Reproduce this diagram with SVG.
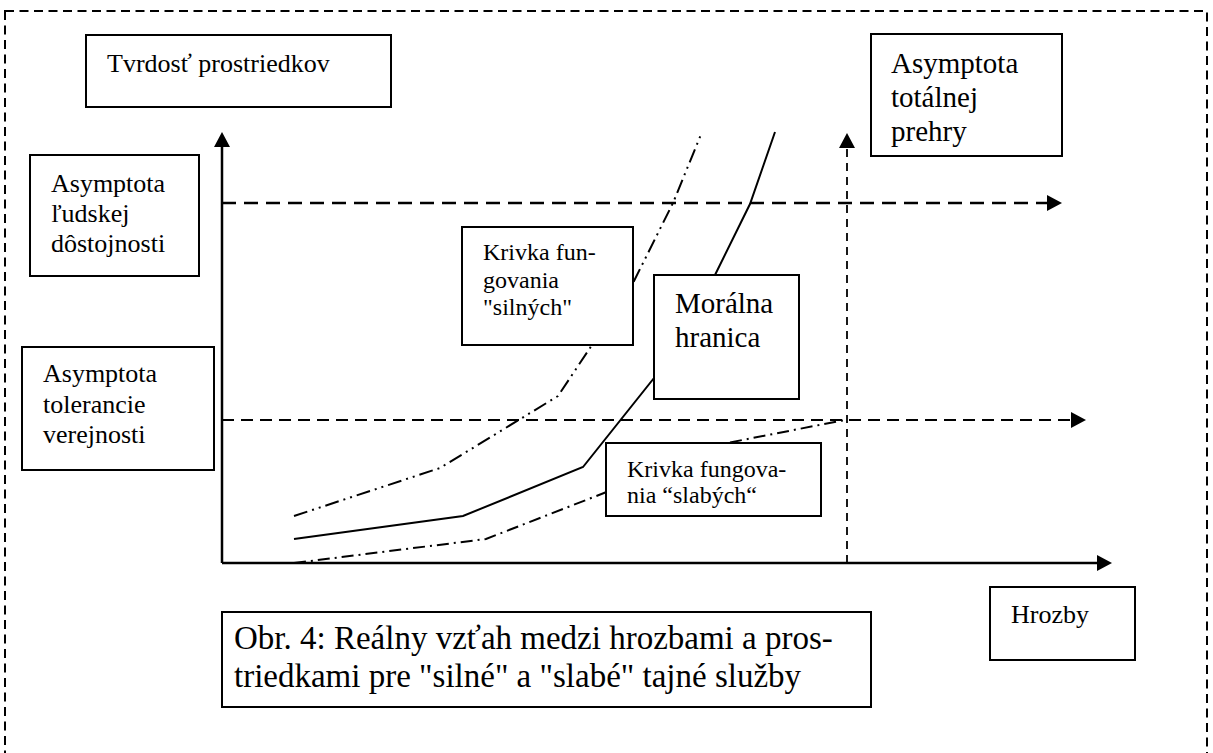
<svg xmlns="http://www.w3.org/2000/svg" width="1213" height="753" viewBox="0 0 1213 753">
<style>
.box{fill:#fff;stroke:#000;stroke-width:2}
.t{font-family:"Liberation Serif","Times New Roman",serif;fill:#000}
.ax{stroke:#000;stroke-width:2.5;fill:none}
.dl{stroke:#000;fill:none}
</style>
<defs>
<marker id="ah" viewBox="0 0 15 16" refX="0" refY="8" markerWidth="15" markerHeight="16" markerUnits="userSpaceOnUse" orient="auto">
<path d="M0,0 L15,8 L0,16 z" fill="#000"/>
</marker>
</defs>
<rect x="5" y="11" width="1202" height="760" fill="none" stroke="#000" stroke-width="2" stroke-dasharray="9 5.5"/>
<g id="connectors">
<line class="ax" x1="222" y1="563" x2="222" y2="147" marker-end="url(#ah)"/>
<line class="ax" x1="222" y1="563" x2="1097" y2="563" marker-end="url(#ah)"/>
<line class="dl" stroke-width="2.5" stroke-dasharray="14 8" x1="222" y1="203" x2="1047" y2="203" marker-end="url(#ah)"/>
<line class="dl" stroke-width="1.8" stroke-dasharray="12 7" x1="222" y1="420" x2="1071" y2="420" marker-end="url(#ah)"/>
<line class="dl" stroke-width="1.8" stroke-dasharray="8 6" x1="847" y1="563" x2="847" y2="148" marker-end="url(#ah)"/>
<polyline class="dl" stroke-width="2" points="294,539 463,516 583,467 654,378 715,275 750,204 775,132"/>
<polyline class="dl" stroke-width="2" stroke-dasharray="14 5 2 5 2 5" points="294,516 440,468 558,396 592,345 633,283 673,203 702,132"/>
<polyline class="dl" stroke-width="2" stroke-dasharray="12 5 2 5" points="294,563 486,539 604,493 727,443 845,420"/>
</g>
<g id="n-tvrdost">
<rect class="box" x="86" y="35" width="305" height="72"/>
<text class="t" x="107" y="72" font-size="26">Tvrdosť prostriedkov</text>
</g>
<g id="n-totalnej">
<rect class="box" x="871" y="34" width="191" height="122"/>
<text class="t" x="891" y="73" font-size="29">Asymptota</text>
<text class="t" x="891" y="107" font-size="29">totálnej</text>
<text class="t" x="891" y="141" font-size="29">prehry</text>
</g>
<g id="n-ludskej">
<rect class="box" x="30" y="155" width="169" height="121"/>
<text class="t" x="51" y="192" font-size="26">Asymptota</text>
<text class="t" x="51" y="222" font-size="26">ľudskej</text>
<text class="t" x="51" y="252" font-size="26">dôstojnosti</text>
</g>
<g id="n-tolerancie">
<rect class="box" x="22" y="347" width="192" height="123"/>
<text class="t" x="43" y="382" font-size="26">Asymptota</text>
<text class="t" x="43" y="413" font-size="26">tolerancie</text>
<text class="t" x="43" y="443" font-size="26">verejnosti</text>
</g>
<g id="n-silnych">
<rect class="box" x="462" y="227" width="171" height="118"/>
<text class="t" x="483" y="260" font-size="24">Krivka fun-</text>
<text class="t" x="483" y="288" font-size="24">govania</text>
<text class="t" x="483" y="315" font-size="24">"silných"</text>
</g>
<g id="n-moralna">
<rect class="box" x="654" y="275" width="145" height="124"/>
<text class="t" x="675" y="313" font-size="29">Morálna</text>
<text class="t" x="675" y="347" font-size="29">hranica</text>
</g>
<g id="n-slabych">
<rect class="box" x="606" y="443" width="215" height="73"/>
<text class="t" x="627" y="477" font-size="24">Krivka fungova-</text>
<text class="t" x="627" y="503" font-size="24">nia “slabých“</text>
</g>
<g id="n-hrozby">
<rect class="box" x="990" y="587" width="145" height="73"/>
<text class="t" x="1011" y="623" font-size="26">Hrozby</text>
</g>
<g id="n-caption">
<rect class="box" x="222" y="612" width="649" height="95"/>
<text class="t" x="234" y="649" font-size="33">Obr. 4: Reálny vzťah medzi hrozbami a pros-</text>
<text class="t" x="234" y="687" font-size="33">triedkami pre "silné" a "slabé" tajné služby</text>
</g>
</svg>
